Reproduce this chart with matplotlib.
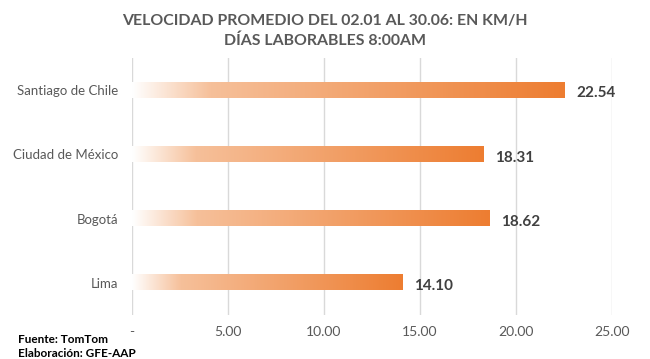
import numpy as np
import matplotlib
matplotlib.use('Agg')
import matplotlib.pyplot as plt
from matplotlib.colors import LinearSegmentedColormap

# data
ciudades = ["Santiago de Chile", "Ciudad de México", "Bogotá", "Lima"]
velocidad = [22.54, 18.31, 18.62, 14.10]
x_ticks = [0, 5, 10, 15, 20, 25]
x_labels = ["-", "5.00", "10.00", "15.00", "20.00", "25.00"]

TITLE = "VELOCIDAD PROMEDIO DEL 02.01 AL 30.06: EN KM/H\nDÍAS LABORABLES 8:00AM"
FOOTER = ["Fuente: TomTom", "Elaboración: GFE-AAP"]

plt.rcParams['font.family'] = ['Lato', 'DejaVu Sans']

grid_color = '#d9d9d9'
text_color = '#595959'
orange = '#ed7d31'

fig = plt.figure(figsize=(6.5, 3.59), dpi=100)
ax = fig.add_axes([0.203, 0.123, 0.7385, 0.715])

# gradient: white -> light orange -> orange, along each bar
cmap = LinearSegmentedColormap.from_list(
    'grad', [(0.0, '#ffffff'), (0.18, '#f6c09a'), (1.0, orange)])
grad = np.linspace(0, 1, 256).reshape(1, -1)

bar_h = 0.24
ypos = np.arange(len(ciudades))[::-1]
for y, v in zip(ypos, velocidad):
    ax.imshow(grad, cmap=cmap, aspect='auto', interpolation='bicubic',
              extent=[0, v, y - bar_h / 2, y + bar_h / 2], zorder=2)
    ax.text(v + 0.6, y - 0.05, f"{v:.2f}", va='center', ha='left',
            fontsize=11, fontweight='bold', color='#404040')

ax.set_xlim(0, 25)
ax.set_ylim(-0.5, len(ciudades) - 0.5)
ax.set_xticks(x_ticks)
ax.set_xticklabels(x_labels, fontsize=10, color=text_color)
ax.set_yticks(ypos)
ax.set_yticklabels(ciudades, fontsize=9.5, color=text_color)
ax.tick_params(length=0)
ax.tick_params(axis='x', pad=8)
ax.tick_params(axis='y', pad=10)

ax.grid(axis='x', color=grid_color, linewidth=1.0)
ax.set_axisbelow(True)
for s in ax.spines.values():
    s.set_visible(False)

fig.text(0.5, 0.914, TITLE, ha='center', va='center', fontsize=11.4,
         fontweight='bold', color=text_color, linespacing=1.45)

fig.text(0.028, 0.055, FOOTER[0], ha='left', va='center', fontsize=8.5,
         fontweight='bold', color='black')
fig.text(0.028, 0.014, FOOTER[1], ha='left', va='center', fontsize=8.5,
         fontweight='bold', color='black')

fig.savefig('out.png', dpi=100)
